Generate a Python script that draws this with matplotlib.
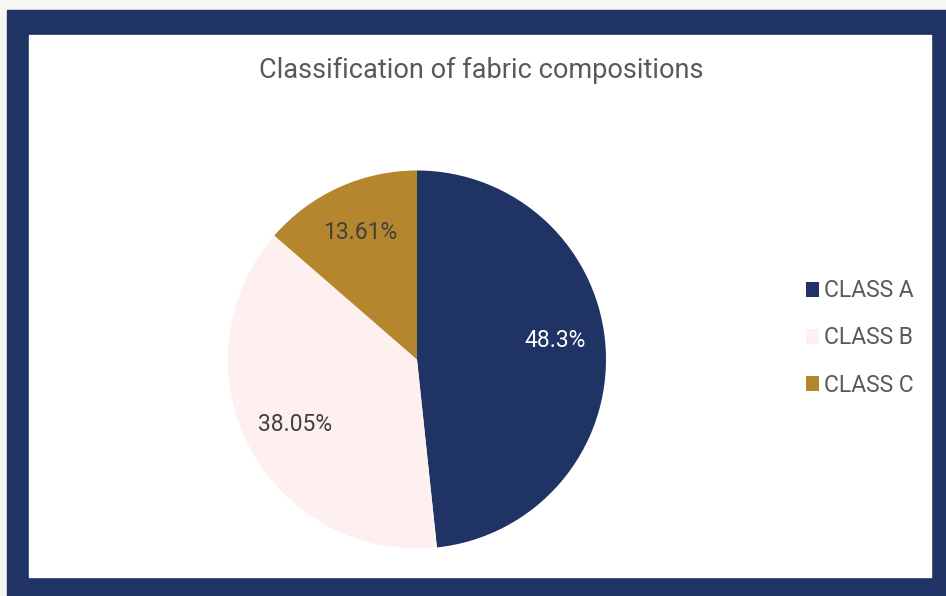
import matplotlib.pyplot as plt
import numpy as np
from matplotlib.patches import Rectangle, Patch

classes = ["CLASS A", "CLASS B", "CLASS C"]
shares = [48.3, 38.05, 13.61]
colors = ["#1f3364", "#fdf0ee", "#b5862e"]
label_colors = ["white", "#404040", "#404040"]

plt.rcParams["font.family"] = ["Roboto", "DejaVu Sans"]

W, H = 946, 596
fig = plt.figure(figsize=(W / 100, H / 100), dpi=100)
fig.patch.set_facecolor("#f7f6f3")

# navy frame with white card inside (pixel coords -> figure fraction)
def px_rect(x0, y0, x1, y1, color):
    fig.patches.append(Rectangle((x0 / W, 1 - y1 / H), (x1 - x0) / W, (y1 - y0) / H,
                                 transform=fig.transFigure, color=color, zorder=-5))

px_rect(7, 10, W, H, "#1f3464")
px_rect(29, 35, 931, 577, "white")

fig.text(481 / W, 1 - 70 / H, "Classification of fabric compositions",
         ha="center", va="center", fontsize=19.5, color="#595959")

# pie centred at (417, 359) px, radius 189 px
cx, cy, r = 417, 359.5, 189
ax = fig.add_axes([(cx - r) / W, 1 - (cy + r) / H, 2 * r / W, 2 * r / H], zorder=2)
wedges, _ = ax.pie(shares, colors=colors, startangle=90, counterclock=False,
                   radius=1, wedgeprops=dict(linewidth=0))
ax.set_xlim(-1, 1)
ax.set_ylim(-1, 1)
ax.set_axis_off()

# percentage labels; the big slice's label sits a little above its midline
lift = [0.06, 0.0, 0.0]
for w, v, tc, dy in zip(wedges, shares, label_colors, lift):
    mid = np.deg2rad((w.theta1 + w.theta2) / 2)
    ax.text(0.73 * np.cos(mid), 0.74 * np.sin(mid) + dy, f"{v:g}%",
            ha="center", va="center", fontsize=16.5, color=tc)

handles = [Patch(facecolor=c, edgecolor="none") for c in colors]
fig.legend(handles, classes, loc="center left", bbox_to_anchor=(785 / W, 1 - 338 / H),
           frameon=False, fontsize=16.5, labelcolor="#595959", handlelength=0.6,
           handleheight=0.6, handletextpad=0.2, labelspacing=1.05)

fig.savefig("out.png", dpi=100)
